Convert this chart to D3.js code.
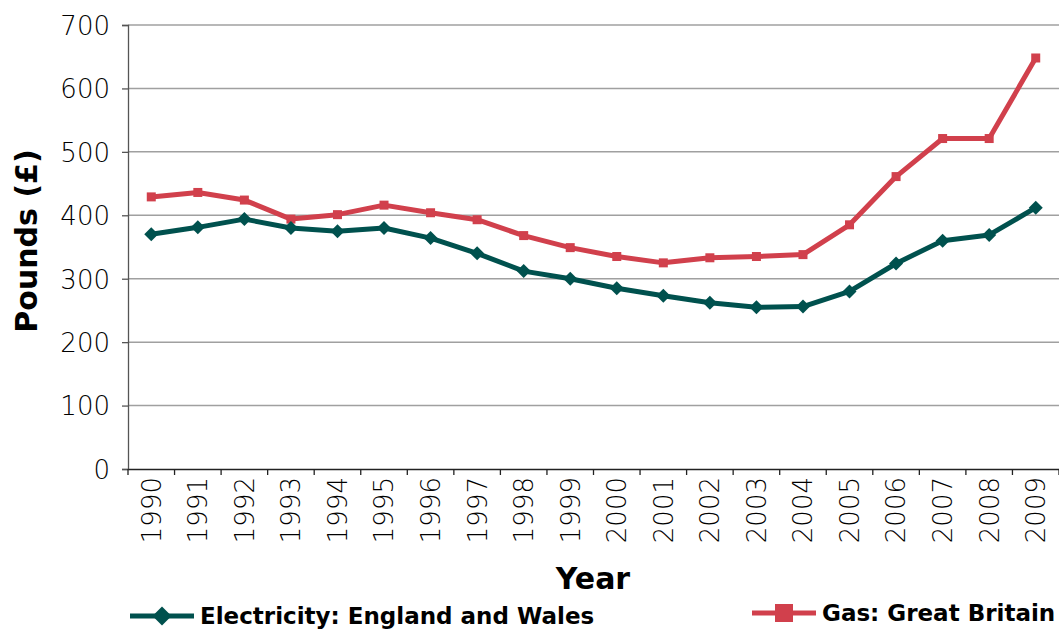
<!DOCTYPE html>
<html>
<head>
<meta charset="utf-8">
<script src="https://cdn.jsdelivr.net/npm/d3@7"></script>
<style>
  html, body { margin: 0; padding: 0; background: #fff; }
  svg { display: block; }
  .tick text { font-family: "DejaVu Sans", sans-serif; font-weight: 200; font-size: 26px; fill: #000; }
  .ttl { font-family: "DejaVu Sans", sans-serif; font-weight: bold; fill: #000; }
</style>
</head>
<body>
<svg id="chart" width="1059" height="633"></svg>
<script>
// Average annual domestic bills, 1990–2009
const years = ["1990","1991","1992","1993","1994","1995","1996","1997","1998","1999",
               "2000","2001","2002","2003","2004","2005","2006","2007","2008","2009"];
const electricity = [370, 381, 394, 380, 375, 380, 364, 340, 312, 300,
                     285, 273, 262, 255, 256, 280, 324, 360, 369, 412];
const gas = [429, 436, 424, 394, 401, 416, 404, 393, 368, 349,
             335, 325, 333, 335, 338, 385, 461, 521, 521, 648];
const yTicks = [0, 100, 200, 300, 400, 500, 600, 700];
const seriesNames = ["Electricity: England and Wales", "Gas: Great Britain"];

const svg = d3.select("#chart");
const margin = { left: 128, right: 0, top: 25, bottom: 164 };
const W = 1059, H = 633;
const x0 = margin.left, x1 = W - margin.right;
const y0 = H - margin.bottom, y1 = margin.top;

const x = d3.scaleBand().domain(years).range([x0, x1]);
const y = d3.scaleLinear().domain([0, 700]).range([y0, y1]);

// square-ish diamond marker of half-width r
const diamondPath = r => `M0,${-r}L${r},0L0,${r}L${-r},0Z`;

// gridlines
svg.append("g").selectAll("line").data(yTicks.slice(1)).join("line")
  .attr("x1", x0).attr("x2", x1)
  .attr("y1", d => y(d)).attr("y2", d => y(d))
  .attr("stroke", "#a0a0a0").attr("stroke-width", 1.5);

// y axis
const yAxis = svg.append("g").attr("transform", `translate(${x0},0)`)
  .call(d3.axisLeft(y).tickValues(yTicks).tickSize(6).tickPadding(12));
yAxis.select(".domain").attr("stroke", "#555").attr("stroke-width", 1.3);
yAxis.selectAll(".tick line").attr("stroke", "#555").attr("stroke-width", 1.3);
yAxis.selectAll(".tick text").attr("dy", "0.36em");

// x axis with ticks at category boundaries
const xAxis = svg.append("g").attr("transform", `translate(0,${y0})`)
  .call(d3.axisBottom(x).tickSize(0).tickPadding(0));
xAxis.select(".domain").attr("stroke", "#222").attr("stroke-width", 1.3);
xAxis.selectAll(".tick text")
  .attr("transform", "rotate(-90)")
  .attr("text-anchor", "end")
  .attr("x", -8).attr("y", 0).attr("dy", "0.36em");
svg.append("g").selectAll("line").data(d3.range(years.length + 1)).join("line")
  .attr("x1", i => x0 + i * x.step()).attr("x2", i => x0 + i * x.step())
  .attr("y1", y0).attr("y2", y0 + 6)
  .attr("stroke", "#222").attr("stroke-width", 1.3);

const cx = d => x(d) + x.bandwidth() / 2;
const line = d3.line().x(d => cx(d[0])).y(d => y(d[1]));

const elecColor = "#00514e", gasColor = "#d1404c";

// gas series
svg.append("path").datum(years.map((yr, i) => [yr, gas[i]]))
  .attr("d", line).attr("fill", "none").attr("stroke", gasColor)
  .attr("stroke-width", 5).attr("stroke-linejoin", "round");
svg.append("g").selectAll("rect").data(years.map((yr, i) => [yr, gas[i]])).join("rect")
  .attr("x", d => cx(d[0]) - 4.5).attr("y", d => y(d[1]) - 4.5)
  .attr("width", 9).attr("height", 9).attr("fill", gasColor);

// electricity series
svg.append("path").datum(years.map((yr, i) => [yr, electricity[i]]))
  .attr("d", line).attr("fill", "none").attr("stroke", elecColor)
  .attr("stroke-width", 5).attr("stroke-linejoin", "round");
svg.append("g").selectAll("path").data(years.map((yr, i) => [yr, electricity[i]])).join("path")
  .attr("d", diamondPath(7))
  .attr("transform", d => `translate(${cx(d[0])},${y(d[1])})`)
  .attr("fill", elecColor);

// axis titles
svg.append("text").attr("class", "ttl")
  .attr("transform", `translate(37,${(y0 + y1) / 2 - 6}) rotate(-90)`)
  .attr("text-anchor", "middle").attr("font-size", 30).text("Pounds (£)");
svg.append("text").attr("class", "ttl")
  .attr("x", 593).attr("y", 589).attr("text-anchor", "middle")
  .attr("font-size", 30).text("Year");

// legend
const legend = [
  { name: seriesNames[0], color: elecColor, lx: 130, ly: 616, kind: "diamond" },
  { name: seriesNames[1], color: gasColor, lx: 752, ly: 613, kind: "square" }
];
legend.forEach(l => {
  const g = svg.append("g");
  g.append("line").attr("x1", l.lx).attr("x2", l.lx + 64)
    .attr("y1", l.ly).attr("y2", l.ly)
    .attr("stroke", l.color).attr("stroke-width", 5);
  if (l.kind === "diamond") {
    g.append("path").attr("d", diamondPath(9.5))
      .attr("transform", `translate(${l.lx + 32},${l.ly})`).attr("fill", l.color);
  } else {
    g.append("rect").attr("x", l.lx + 23).attr("y", l.ly - 9)
      .attr("width", 18).attr("height", 18).attr("fill", l.color);
  }
  g.append("text").attr("class", "ttl")
    .attr("x", l.lx + 70).attr("y", l.ly).attr("dy", "0.36em")
    .attr("font-size", 23).text(l.name);
});
</script>
</body>
</html>
